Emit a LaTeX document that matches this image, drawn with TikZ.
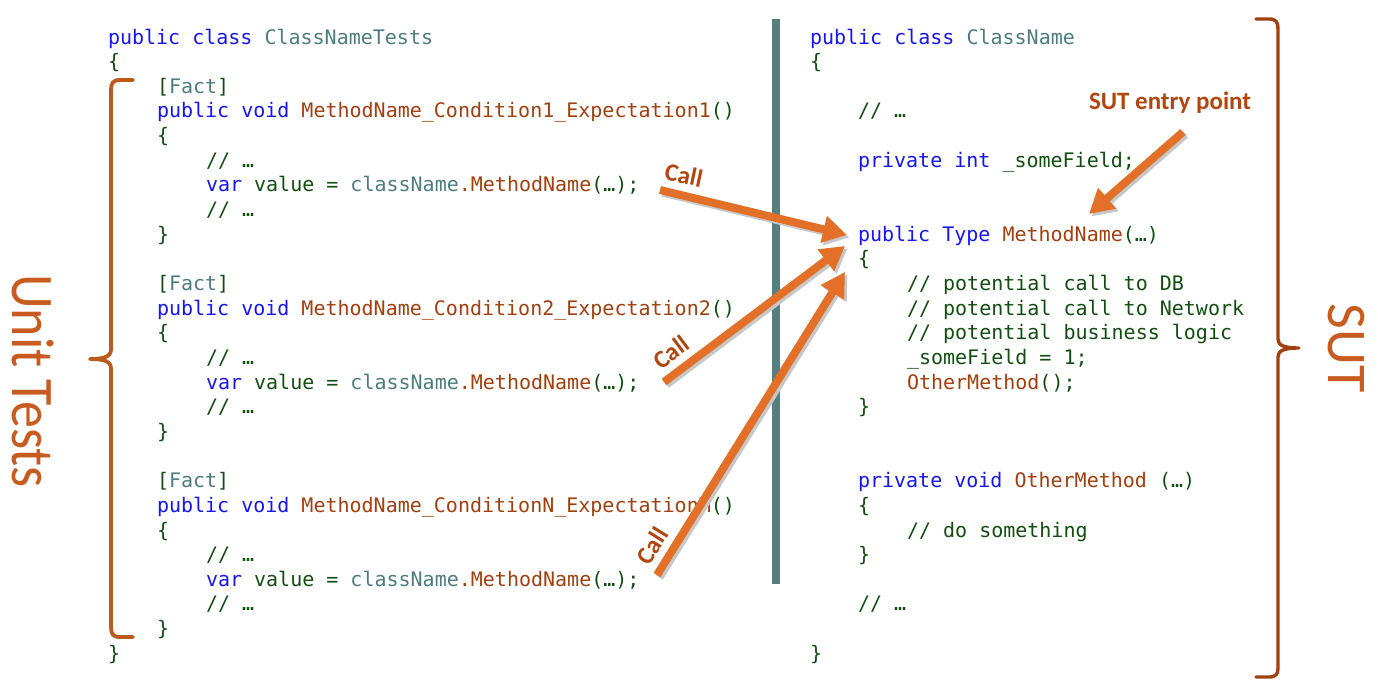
\documentclass[tikz,border=0pt]{standalone}
\usepackage{fontspec}
\setmonofont{DejaVu Sans Mono}
\newfontfamily\lblfont{Carlito}
\usetikzlibrary{arrows.meta}
\definecolor{kwblue}{RGB}{22,22,240}
\definecolor{tyteal}{RGB}{78,125,125}
\definecolor{mnbrown}{RGB}{160,64,16}
\definecolor{cmgreen}{RGB}{18,78,18}
\definecolor{arrorange}{RGB}{226,112,40}
\definecolor{bracebrownL}{RGB}{188,90,28}
\definecolor{bracebrownR}{RGB}{160,66,16}
\definecolor{lblbrown}{RGB}{176,70,16}
\definecolor{bigorange}{RGB}{200,92,32}
\definecolor{divteal}{RGB}{86,128,128}
\newcommand\cKw[1]{\textcolor{kwblue}{#1}}
\newcommand\cTy[1]{\textcolor{tyteal}{#1}}
\newcommand\cMn[1]{\textcolor{mnbrown}{#1}}
\tikzset{
  code/.style={anchor=base west, inner sep=0pt, outer sep=0pt,
    font=\ttfamily\fontsize{20}{24}\selectfont, text=cmgreen},
  calllbl/.style={inner sep=0pt, text=lblbrown,
    font=\lblfont\bfseries\fontsize{25}{28}\selectfont},
  bigtext/.style={inner sep=0pt, text=bigorange, rotate=-90},
  callarrow/.style={draw=arrorange, line width=8pt, -{Triangle[width=26pt,length=24pt]}},
  shadowarrow/.style={draw=black!22, line width=8pt, -{Triangle[width=26pt,length=24pt]},
    transform canvas={shift={(2.5pt,-2.5pt)}}},
  bracepath/.style={line width=3.8pt, line cap=round, line join=round},
  divider/.style={draw=divteal, line width=8pt}
}
\begin{document}
\begin{tikzpicture}[x=1pt,y=-1pt]
\useasboundingbox[fill=white] (0,0) rectangle (1378,699);

% ---------- left code block ----------
\node[code] (L0)  at (108,44)     {\cKw{public class} \cTy{ClassNameTests}};
\node[code] (L1)  at (108,68.65)  {\{};
\node[code] (L2)  at (157,93.3)   {[\cTy{Fact}]};
\node[code] (L3)  at (157,117.95) {\cKw{public void} \cMn{MethodName\_Condition1\_Expectation1}()};
\node[code] (L4)  at (157,142.6)  {\{};
\node[code] (L5)  at (206,167.25) {// …};
\node[code] (L6)  at (206,191.9)  {\cKw{var} value = \cTy{className}\cMn{.MethodName}(…);};
\node[code] (L7)  at (206,216.55) {// …};
\node[code] (L8)  at (157,241.2)  {\}};
\node[code] (L10) at (157,290.5)  {[\cTy{Fact}]};
\node[code] (L11) at (157,315.15) {\cKw{public void} \cMn{MethodName\_Condition2\_Expectation2}()};
\node[code] (L12) at (157,339.8)  {\{};
\node[code] (L13) at (206,364.45) {// …};
\node[code] (L14) at (206,389.1)  {\cKw{var} value = \cTy{className}\cMn{.MethodName}(…);};
\node[code] (L15) at (206,413.75) {// …};
\node[code] (L16) at (157,438.4)  {\}};
\node[code] (L18) at (157,487.7)  {[\cTy{Fact}]};
\node[code] (L19) at (157,512.35) {\cKw{public void} \cMn{MethodName\_ConditionN\_ExpectationM}()};
\node[code] (L20) at (157,537)    {\{};
\node[code] (L21) at (206,561.65) {// …};
\node[code] (L22) at (206,586.3)  {\cKw{var} value = \cTy{className}\cMn{.MethodName}(…);};
\node[code] (L23) at (206,610.95) {// …};
\node[code] (L24) at (157,635.6)  {\}};
\node[code] (L25) at (108,660.25) {\}};

% ---------- right code block ----------
\node[code] (R0)  at (810,44)     {\cKw{public class} \cTy{ClassName}};
\node[code] (R1)  at (810,68.65)  {\{};
\node[code] (R3)  at (858,117.95) {// …};
\node[code] (R5)  at (858,167.25) {\cKw{private int} \_someField;};
\node[code] (R8)  at (858,241.2)  {\cKw{public Type} \cMn{MethodName}(…)};
\node[code] (R9)  at (858,265.85) {\{};
\node[code] (R10) at (907,290.5)  {// potential call to DB};
\node[code] (R11) at (907,315.15) {// potential call to Network};
\node[code] (R12) at (907,339.8)  {// potential business logic};
\node[code] (R13) at (907,364.45) {\_someField = 1;};
\node[code] (R14) at (907,389.1)  {\cMn{OtherMethod}();};
\node[code] (R15) at (858,413.75) {\}};
\node[code] (R18) at (858,487.7)  {\cKw{private void} \cMn{OtherMethod} (…)};
\node[code] (R19) at (858,512.35) {\{};
\node[code] (R20) at (907,537)    {// do something};
\node[code] (R21) at (858,561.65) {\}};
\node[code] (R23) at (858,610.95) {// …};
\node[code] (R25) at (810,660.25) {\}};

% ---------- divider ----------
\coordinate (dtop) at (776,19);
\coordinate (dbot) at (776,584);
\draw[divider] (dtop) -- (dbot);

% ---------- braces ----------
\draw[bracepath, draw=bracebrownL] (133,80) -- (120,80) .. controls (113,80) and (111,83) .. (111,90)
  -- (111,349) .. controls (111,356) and (106,359) .. (90,359)
  .. controls (106,359) and (111,362) .. (111,369)
  -- (111,627) .. controls (111,634) and (113,637) .. (120,637) -- (133,637);
\draw[bracepath, draw=bracebrownR, line width=3.4pt] (1256,19) -- (1269,19) .. controls (1276,19) and (1278,22) .. (1278,29)
  -- (1278,339) .. controls (1278,345) and (1283,348) .. (1299,348)
  .. controls (1283,348) and (1278,351) .. (1278,357)
  -- (1278,668) .. controls (1278,674) and (1276,677) .. (1269,677) -- (1256,677);

% ---------- side titles ----------
\node[bigtext, font=\lblfont\fontsize{54}{60}\selectfont] (ut) at (33,381) {\scalebox{1}[1.12]{Unit Tests}};
\node[bigtext, font=\lblfont\fontsize{56}{60}\selectfont] (sut) at (1346,348) {SUT};

% ---------- arrows ----------
\coordinate (a1s) at (660,190);
\coordinate (a1e) at (847,235);
\coordinate (a2s) at (664,382);
\coordinate (a2e) at (845,246);
\coordinate (a3s) at (657,575);
\coordinate (a3e) at (845,272);
\coordinate (a4s) at (1183,132);
\coordinate (a4e) at (1089,214);

\foreach \s/\e in {a1s/a1e,a2s/a2e,a3s/a3e,a4s/a4e}
  \draw[shadowarrow] (\s) -- (\e);
\foreach \s/\e in {a1s/a1e,a2s/a2e,a3s/a3e,a4s/a4e}
  \draw[callarrow] (\s) -- (\e);

% ---------- labels ----------
\node[calllbl, rotate=-12] (call1) at (684,175) {Call};
\node[calllbl, rotate=37]  (call2) at (671,352) {Call};
\node[calllbl, rotate=58]  (call3) at (652,546) {Call};
\node[calllbl] (entry) at (1170,103) {SUT entry point};
\end{tikzpicture}
\end{document}
